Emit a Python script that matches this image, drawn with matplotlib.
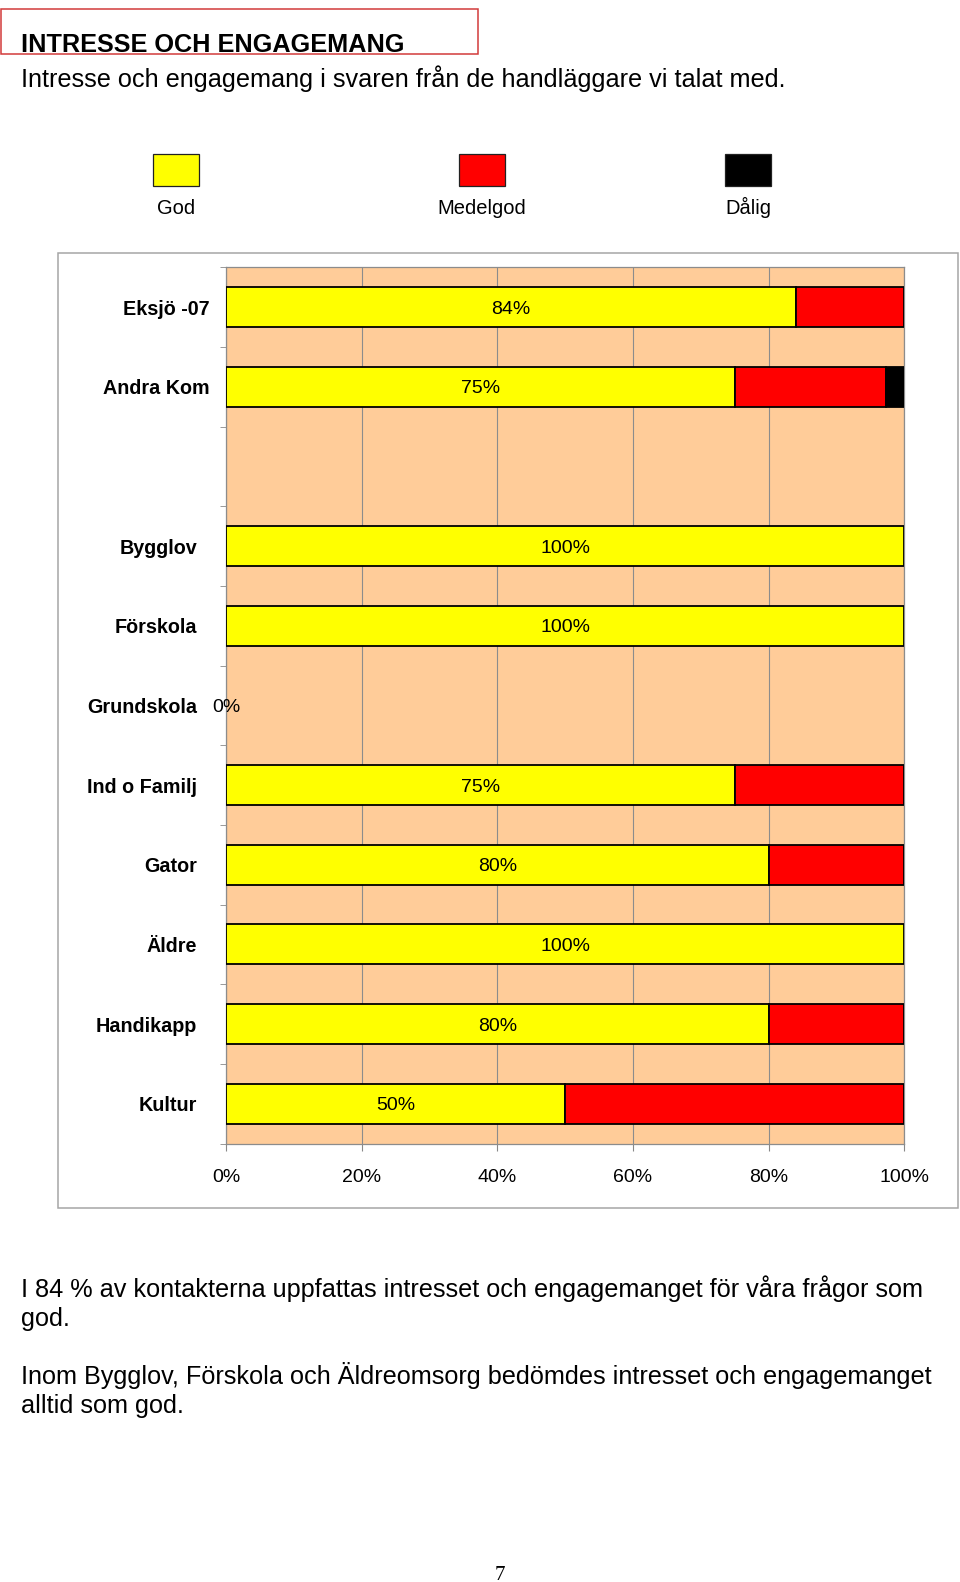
import numpy as np
import matplotlib
matplotlib.use("Agg")
import matplotlib.pyplot as plt
from matplotlib.patches import Rectangle
from matplotlib.transforms import ScaledTranslation

plt.rcParams['font.family'] = ['Liberation Sans', 'DejaVu Sans']

# Data (percent of answers)
categories = ["Eksjö -07", "Andra Kom", "", "Bygglov", "Förskola", "Grundskola",
              "Ind o Familj", "Gator", "Äldre", "Handikapp", "Kultur"]
god = [84, 75, 0, 100, 100, 0, 75, 80, 100, 80, 50]
medelgod = [16, 22.3, 0, 0, 0, 0, 25, 20, 0, 20, 50]
dalig = [0, 2.7, 0, 0, 0, 0, 0, 0, 0, 0, 0]
series_names = ["God", "Medelgod", "Dålig"]
series_colors = ["#FFFF00", "#FF0000", "#000000"]
x_ticks = [0, 20, 40, 60, 80, 100]

W, H = 960, 1582
fig = plt.figure(figsize=(W / 100, H / 100), dpi=100)


def fx(x):
    return x / W


def fy(y):
    return 1 - y / H


# header
fig.patches.append(Rectangle((fx(1), fy(54)), fx(477), 45 / H, transform=fig.transFigure,
                             fill=False, edgecolor="#d23a3a", linewidth=1.1))
fig.text(fx(21), fy(52), "INTRESSE OCH ENGAGEMANG", fontsize=18.2, fontweight="bold",
         va="baseline", ha="left")
fig.text(fx(21), fy(87), "Intresse och engagemang i svaren från de handläggare vi talat med.",
         fontsize=18.2, va="baseline", ha="left")

# legend above the chart
leg_x = [153, 459, 725]
for name, col, lx in zip(series_names, series_colors, leg_x):
    fig.patches.append(Rectangle((fx(lx), fy(186)), fx(46), 32 / H, transform=fig.transFigure,
                                 facecolor=col, edgecolor="#222222", linewidth=0.9))
    fig.text(fx(lx + 23), fy(214), name, fontsize=14.5, ha="center", va="baseline")

# chart frame
fig.patches.append(Rectangle((fx(57.5), fy(1208)), fx(958 - 57.5), (1208 - 252.5) / H,
                             transform=fig.transFigure, fill=False,
                             edgecolor="#a6a6a6", linewidth=1.1))

left, right, top, bottom = 226, 904.3, 267.3, 1143.5
ax = fig.add_axes([fx(left), fy(bottom), fx(right - left), (bottom - top) / H])
ax.set_facecolor("#FFCC99")

y = np.arange(len(categories))
starts = np.zeros(len(categories))
for vals, col in zip([god, medelgod, dalig], series_colors):
    vals = np.array(vals, dtype=float)
    m = vals > 0
    ax.barh(y[m], vals[m], left=starts[m], height=0.5, color=col,
            edgecolor="black", linewidth=1.3, zorder=3)
    starts += vals

# value labels for "God"
for yi, cat, v in zip(y, categories, god):
    if cat:
        ax.text(v / 2, yi, f"{v:g}%", ha="center", va="center_baseline", fontsize=14,
                zorder=4, clip_on=False)

ax.set_xlim(0, 100)
ax.set_ylim(len(categories) - 0.5, -0.5)

ax.set_xticks(x_ticks)
ax.set_xticklabels([f"{t}%" for t in x_ticks], fontsize=14)
ax.tick_params(axis="x", length=5, color="#888888", pad=13)
ax.xaxis.grid(True, color="#8c8c8c", linewidth=0.8)
ax.set_axisbelow(True)

ax.set_yticks(y)
ax.set_yticklabels(categories, fontsize=14.2, fontweight="bold")
ax.tick_params(axis="y", which="major", length=0, pad=12)
ax.set_yticks(np.arange(len(categories) + 1) - 0.5, minor=True)
ax.tick_params(axis="y", which="minor", length=4, color="#888888")

# the lower category labels sit a bit further left in the original
shift = ScaledTranslation(-12 / 100, 0, fig.dpi_scale_trans)
for i, lab in enumerate(ax.get_yticklabels()):
    if i >= 3:
        lab.set_transform(lab.get_transform() + shift)

for s in ax.spines.values():
    s.set_color("#8c8c8c")
    s.set_linewidth(0.9)

# notes under the chart
notes = [
    (1297, "I 84 % av kontakterna uppfattas intresset och engagemanget för våra frågor som"),
    (1326, "god."),
    (1384, "Inom Bygglov, Förskola och Äldreomsorg bedömdes intresset och engagemanget"),
    (1413, "alltid som god."),
]
for ny, line in notes:
    fig.text(fx(21), fy(ny), line, fontsize=18.2, ha="left", va="baseline")

fig.text(fx(500), fy(1566), "7", fontsize=15, family="Liberation Serif",
         ha="center", va="top")

fig.savefig("out.png", dpi=100)
